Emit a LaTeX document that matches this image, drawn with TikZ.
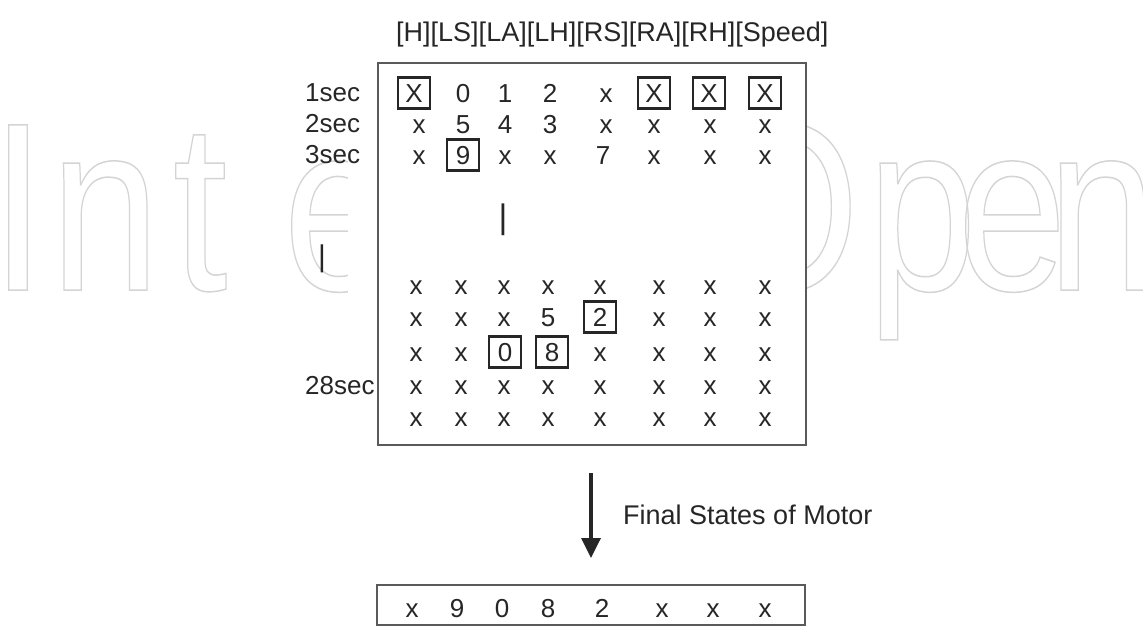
\documentclass[tikz,border=0pt]{standalone}
\usepackage{fontspec}
\usepackage{graphicx}
\setmainfont{Liberation Sans}
\usetikzlibrary{arrows.meta}
\definecolor{ink}{HTML}{262626}
\definecolor{frame}{HTML}{5A5A5A}
\definecolor{wmgray}{HTML}{D4D4D4}
\newcommand\wmtxt[1]{\special{pdf:literal direct 1 Tr 1.5 w}\scalebox{0.82}[1]{#1}\special{pdf:literal direct 0 Tr}}
\begin{document}
\begin{tikzpicture}[x=1pt,y=-1pt,
  cell/.style={anchor=base, inner sep=0pt, text=ink, font=\fontsize{26}{30}\selectfont},
  bcell/.style={cell, draw=ink, line width=2.6pt, minimum width=32pt, minimum height=31pt},
  lab/.style={anchor=base west, inner sep=0pt, text=ink, font=\fontsize{26}{30}\selectfont},
  big/.style={anchor=base west, inner sep=0pt, text=ink, font=\fontsize{27}{30}\selectfont},
  bar/.style={inner sep=0pt, text=ink},
  frm/.style={draw=frame, line width=2pt, fill=white, inner sep=0pt},
  wm/.style={anchor=base, inner sep=0pt, text=wmgray, font=\fontsize{240}{240}\selectfont},
  arr/.style={-{Triangle[width=19pt,length=20pt]}, line width=3.5pt, draw=ink}
]
\useasboundingbox[fill=white] (0,0) rectangle (1143,629);

% watermark
\node[wm] (w1) at (18,290) {\wmtxt{I}};
\node[wm] (w2) at (105,290) {\wmtxt{n}};
\node[wm] (w3) at (200,290) {\wmtxt{t}};
\node[wm] (w4) at (338,290) {\wmtxt{e}};
\node[wm] (w5) at (783,290) {\wmtxt{O}};
\node[wm] (w6) at (922,290) {\wmtxt{p}};
\node[wm] (w7) at (1012,290) {\wmtxt{e}};
\node[wm] (w8) at (1102,290) {\wmtxt{n}};
\fill[white] (348,100) rectangle (380,310);

% frames
\node[frm, minimum width=428pt, minimum height=382pt] (grid) at (592,254) {};
\node[frm, minimum width=428pt, minimum height=40pt] (final) at (591,605) {};

% header
\node[big] (head) at (396,41) {[H][LS][LA][LH][RS][RA][RH][Speed]};

% row labels
\node[lab] (l1) at (305,101) {1sec};
\node[lab] (l2) at (305,132) {2sec};
\node[lab] (l3) at (305,163) {3sec};
\node[lab] (l28) at (305,394) {28sec};
\node[bar, font=\fontsize{30}{30}\selectfont] (dotsL) at (322,259) {|};
\node[bar, font=\fontsize{34}{34}\selectfont] (dotsM) at (503,220) {|};

% top rows
\foreach \xx/\t/\s [count=\i] in {414/X/bcell,463/0/cell,505/1/cell,550/2/cell,606/x/cell,654/X/bcell,709/X/bcell,765/X/bcell}
  \node[\s] (a\i) at (\xx,102) {\t};
\foreach \xx/\t/\s [count=\i] in {419/x/cell,463/5/cell,505/4/cell,550/3/cell,606/x/cell,654/x/cell,710/x/cell,765/x/cell}
  \node[\s] (b\i) at (\xx,133) {\t};
\foreach \xx/\t/\s [count=\i] in {419/x/cell,463/9/bcell,505/x/cell,550/x/cell,603/7/cell,654/x/cell,710/x/cell,765/x/cell}
  \node[\s] (c\i) at (\xx,164) {\t};

% bottom rows
\foreach \xx/\t/\s [count=\i] in {416/x/cell,461/x/cell,504/x/cell,548/x/cell,600/x/cell,659/x/cell,710/x/cell,765/x/cell}
  \node[\s] (d\i) at (\xx,294) {\t};
\foreach \xx/\t/\s [count=\i] in {416/x/cell,461/x/cell,504/x/cell,548/5/cell,600/2/bcell,659/x/cell,710/x/cell,765/x/cell}
  \node[\s] (e\i) at (\xx,326) {\t};
\foreach \xx/\t/\s [count=\i] in {416/x/cell,461/x/cell,505/0/bcell,552/8/bcell,600/x/cell,659/x/cell,710/x/cell,765/x/cell}
  \node[\s] (f\i) at (\xx,361) {\t};
\foreach \xx/\t/\s [count=\i] in {416/x/cell,461/x/cell,504/x/cell,548/x/cell,600/x/cell,659/x/cell,710/x/cell,765/x/cell}
  \node[\s] (g\i) at (\xx,394) {\t};
\foreach \xx/\t/\s [count=\i] in {416/x/cell,461/x/cell,504/x/cell,548/x/cell,600/x/cell,659/x/cell,710/x/cell,765/x/cell}
  \node[\s] (h\i) at (\xx,426) {\t};

% arrow and label
\coordinate (arrS) at (591,473);
\coordinate (arrE) at (591,558);
\draw[arr] (arrS) -- (arrE);
\node[big] (flab) at (623,524) {Final States of Motor};

% final states
\foreach \xx/\t [count=\i] in {412/x,457/9,502/0,548/8,602/2,662/x,713/x,765/x}
  \node[cell] (z\i) at (\xx,617) {\t};
\end{tikzpicture}
\end{document}
